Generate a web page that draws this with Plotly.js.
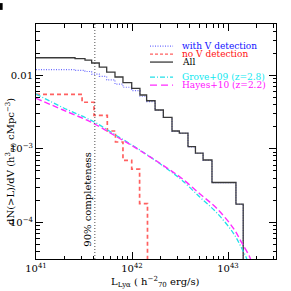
<!DOCTYPE html>
<html>
<head>
<meta charset="utf-8">
<script src="https://cdn.plot.ly/plotly-3.0.1.min.js"></script>
<style>html,body{margin:0;padding:0;background:#fff;}#chart{width:291px;height:291px;}</style>
</head>
<body>
<div id="chart"></div>
<script>
// ---- data ----
// cumulative luminosity function steps: bin edges (erg/s) and dN(>L)/dV values
const allEdges = [1e41, 2.55e41, 3.24e41, 3.80e41, 4.56e41, 5.45e41, 6.65e41, 8.05e41, 9.93e41, 1.21e42, 1.42e42, 1.74e42, 2.12e42, 2.61e42, 3.11e42, 3.83e42, 4.58e42, 5.50e42, 6.81e42, 1.21e43, 1.44e43];
const allDensity = [0.0174, 0.0169, 0.0161, 0.01476, 0.0130, 0.0111, 0.00951, 0.00796, 0.00667, 0.00541, 0.00452, 0.00338, 0.00269, 0.00175, 0.00164, 0.00107, 0.000877, 0.000705, 0.000348, 0.000177];
const vDetDensity = [0.0120, 0.0117, 0.0113, 0.0104, 0.0097, 0.0087, 0.0076, 0.0069, 0.0062, 0.0052, 0.0044, 0.00335, 0.00267, 0.00174, 0.00163, 0.00106, 0.00087, 0.00070, 0.000345, 0.000176];
const noVEdges = [1e41, 3.02e41, 4.02e41, 5.53e41, 6.73e41, 8.05e41, 9.93e41, 1.20e42, 1.45e42];
const noVDensity = [0.00553, 0.00431, 0.00285, 0.00175, 0.00124, 0.000698, 0.000528, 0.000180];
const ZERO_FLOOR = 1e-7; // histogram drops to zero beyond last edge

const groveL = [1.00e41, 1.92e41, 3.95e41, 6.93e41, 1.21e42, 2.49e42, 3.29e42, 5.11e42, 7.62e42, 1.14e43, 1.39e43, 1.57e43, 1.66e43];
const groveN = [0.00558, 0.00363, 0.00236, 0.00151, 0.000964, 0.000499, 0.000377, 0.000219, 0.000135, 7.08e-5, 4.42e-5, 3.16e-5, 2.45e-5];
const hayesL = [1.00e41, 1.92e41, 3.95e41, 6.93e41, 1.21e42, 2.49e42, 3.29e42, 5.11e42, 7.62e42, 1.14e43, 1.39e43, 1.70e43, 1.78e43];
const hayesN = [0.00487, 0.00338, 0.00223, 0.00146, 0.000948, 0.000515, 0.000397, 0.000243, 0.000155, 8.28e-5, 5.27e-5, 3.27e-5, 2.6e-5];

const completenessL = 4.1e41;
const completenessLabel = '90% completeness';

const xTickVals = [1e41, 1e42, 1e43];
const xTickText = ['10<sup>41</sup>', '10<sup>42</sup>', '10<sup>43</sup>'];
const yTickVals = [1e-2, 1e-3, 1e-4];
const yTickText = ['0.01', '10<sup>\u22123</sup>', '10<sup>\u22124</sup>'];

const seriesNames = ['with V detection', 'no V detection', 'All', 'Grove+09 (z=2.8)', 'Hayes+10 (z=2.2)'];
const seriesColors = ['#6b6bff', '#ff6060', '#3a3a3a', '#22e0e8', '#ff2bff'];
const textColors = ['#1010ff', '#ff1010', '#000000', '#10e8f0', '#ff10ff'];

const xTitle = 'L<sub>Lyα</sub> ( h<sup>\u22122</sup><sub>70</sub> erg/s)';
const yTitle = 'dN(&gt;L)/dV (h<sup>3</sup><sub>70</sub> cMpc<sup>\u22123</sup>)';

const X_RANGE_LOG = [41, 43.5];
const Y_RANGE_LOG = [-4.5, -1.3];

// ---- build traces ----
const FONT = 'DejaVu Serif';
const traces = [
  {x: allEdges, y: vDetDensity.concat([ZERO_FLOOR]), mode: 'lines', line: {shape: 'hv', color: seriesColors[0], width: 1.1, dash: '1px,1.5px'}},
  {x: noVEdges, y: noVDensity.concat([ZERO_FLOOR]), mode: 'lines', line: {shape: 'hv', color: seriesColors[1], width: 1.7, dash: '4px,3px'}},
  {x: allEdges, y: allDensity.concat([ZERO_FLOOR]), mode: 'lines', line: {shape: 'hv', color: seriesColors[2], width: 1.3}},
  {x: groveL, y: groveN, mode: 'lines', line: {shape: 'spline', color: seriesColors[3], width: 1.3, dash: '5px,2px,1px,2px'}},
  {x: hayesL, y: hayesN, mode: 'lines', line: {shape: 'spline', color: seriesColors[4], width: 1.4, dash: '6px,3px'}},
  // empty trace that carries the minor-tick overlay axes
  {x: [], y: [], xaxis: 'x2', yaxis: 'y2', mode: 'lines', hoverinfo: 'skip'}
];

// ---- manual legend ----
const legY = [0.906, 0.872, 0.838, 0.774, 0.740];
const legDash = ['1px,1.5px', '3px,2px', 'solid', '5px,2px,1px,2px', '7px,4px'];
const shapes = [
  {type: 'line', xref: 'x', yref: 'paper', x0: completenessL, x1: completenessL, y0: 0, y1: 1,
   line: {color: '#222', width: 0.8, dash: '1px,2px'}},
  {type: 'rect', xref: 'paper', yref: 'paper', x0: -0.15, x1: -0.139, y0: 1.06, y1: 1.089,
   line: {width: 0}, fillcolor: '#000'}
];
const annotations = [];
for (let i = 0; i < seriesNames.length; i++) {
  shapes.push({type: 'line', xref: 'paper', yref: 'paper', x0: 0.475, x1: 0.571, y0: legY[i], y1: legY[i],
    line: {color: seriesColors[i], width: 1.3, dash: legDash[i]}});
  annotations.push({xref: 'paper', yref: 'paper', x: 0.6, y: legY[i], xanchor: 'left', yanchor: 'middle',
    text: seriesNames[i], showarrow: false, font: {family: FONT, size: 9, color: textColors[i]}});
}
annotations.push({xref: 'paper', yref: 'paper', x: 0.211, y: 0.255, text: completenessLabel, textangle: -90,
  showarrow: false, xanchor: 'center', yanchor: 'middle', font: {family: FONT, size: 10, color: '#000'}});
annotations.push({xref: 'paper', yref: 'paper', x: 0.496, y: -0.097, text: xTitle, showarrow: false,
  xanchor: 'center', yanchor: 'middle', font: {family: FONT, size: 10, color: '#000'}});
annotations.push({xref: 'paper', yref: 'paper', x: -0.104, y: 0.413, text: yTitle, textangle: -90, showarrow: false,
  xanchor: 'center', yanchor: 'middle', font: {family: FONT, size: 10, color: '#000'}});

const majorAxis = {
  type: 'log', showgrid: false, zeroline: false, showline: true, linecolor: '#000', linewidth: 1,
  mirror: 'ticks', ticks: 'inside', ticklen: 7, tickwidth: 1, tickcolor: '#000', tickmode: 'array',
  tickfont: {family: FONT, size: 10, color: '#000'}
};
const minorAxis = {
  type: 'log', showgrid: false, zeroline: false, showline: false, mirror: 'ticks',
  ticks: 'inside', ticklen: 3.5, tickwidth: 1, tickcolor: '#000',
  tickmode: 'linear', tick0: 0, dtick: 'D1', showticklabels: false
};

const layout = {
  width: 291, height: 291,
  margin: {l: 36, r: 15, t: 24, b: 32, pad: 0},
  paper_bgcolor: '#fff', plot_bgcolor: 'rgba(0,0,0,0)',
  showlegend: false,
  xaxis: Object.assign({}, majorAxis, {range: X_RANGE_LOG, tickvals: xTickVals, ticktext: xTickText}),
  yaxis: Object.assign({}, majorAxis, {range: Y_RANGE_LOG, tickvals: yTickVals, ticktext: yTickText}),
  xaxis2: Object.assign({}, minorAxis, {range: X_RANGE_LOG, overlaying: 'x', anchor: 'y2'}),
  yaxis2: Object.assign({}, minorAxis, {range: Y_RANGE_LOG, overlaying: 'y', anchor: 'x2'}),
  shapes: shapes,
  annotations: annotations
};

Plotly.newPlot('chart', traces, layout, {staticPlot: true, displayModeBar: false});
</script>
</body>
</html>
